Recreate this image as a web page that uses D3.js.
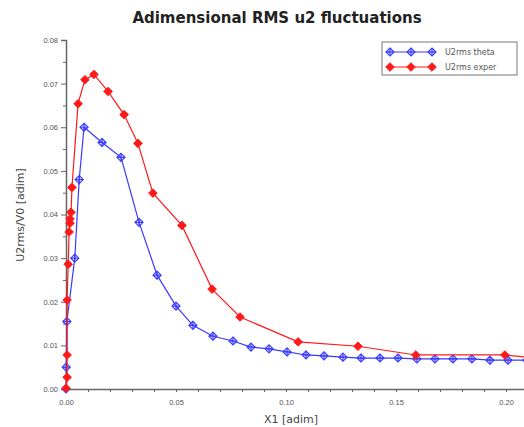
<!DOCTYPE html>
<html>
<head>
<meta charset="utf-8">
<script src="https://cdn.jsdelivr.net/npm/d3@7"></script>
<style>
  body { margin: 0; background: #fff; }
  svg { display: block; font-family: "DejaVu Sans", sans-serif; }
</style>
</head>
<body>
<svg id="chart" width="524" height="427"></svg>
<script>
// data
const thetaX = [0, 0.0001, 0.0004, 0.0040, 0.0060, 0.0082, 0.0164, 0.0250, 0.0332, 0.0414,
  0.0500, 0.0577, 0.0668, 0.0759, 0.0841, 0.0923, 0.1005, 0.1091, 0.1173, 0.1259, 0.1341,
  0.1427, 0.1509, 0.1595, 0.1677, 0.1759, 0.1845, 0.1927, 0.2009, 0.2095]
const thetaY = [0, 0.0050, 0.0155, 0.0300, 0.0480, 0.0600, 0.0565, 0.0531, 0.0382, 0.0261,
  0.0190, 0.0146, 0.0121, 0.0110, 0.0096, 0.0092, 0.0085, 0.0078, 0.0076, 0.0073, 0.0071,
  0.0071, 0.0071, 0.0069, 0.0069, 0.0069, 0.0069, 0.0066, 0.0066, 0.0066]

const experX = [0, 0.0005, 0.0005, 0.0005, 0.0010, 0.0014, 0.0018, 0.0018, 0.0023, 0.0027,
  0.0055, 0.0086, 0.0127, 0.0191, 0.0264, 0.0327, 0.0395, 0.0527, 0.0664, 0.0791,
  0.1055, 0.1327, 0.1590, 0.1995, 0.2150]
const experY = [0.0002, 0.0027, 0.0078, 0.0204, 0.0286, 0.0360, 0.0380, 0.0390, 0.0405, 0.0462,
  0.0654, 0.0709, 0.0721, 0.0682, 0.0629, 0.0563, 0.0449, 0.0375, 0.0229, 0.0165,
  0.0108, 0.0098, 0.0078, 0.0078, 0.0070]

const seriesNames = ['U2rms theta', 'U2rms exper']
const xTickLabels = [0, 0.05, 0.10, 0.15, 0.20]
const yTickLabels = [0, 0.01, 0.02, 0.03, 0.04, 0.05, 0.06, 0.07, 0.08]

const blue = '#3a3aff'
const red = '#ff1a1a'

const svg = d3.select('#chart')

const x = d3.scaleLinear().domain([0, 0.21]).range([66, 528])
const y = d3.scaleLinear().domain([0, 0.08]).range([389, 40])

svg.append('defs').append('clipPath').attr('id', 'clip')
  .append('rect').attr('x', 60).attr('y', 30).attr('width', 464).attr('height', 365)

// title
svg.append('text')
  .attr('x', 277).attr('y', 23)
  .attr('text-anchor', 'middle')
  .attr('font-size', 15).attr('font-weight', 'bold')
  .attr('fill', '#222')
  .text('Adimensional RMS u2 fluctuations')

// axes
const xAxis = d3.axisBottom(x).tickValues(d3.range(0, 0.2101, 0.01)).tickSize(3)
  .tickFormat(d => xTickLabels.some(v => Math.abs(v - d) < 1e-6) ? d3.format('.2f')(d) : '')
const gx = svg.append('g').attr('transform', 'translate(0,389)').call(xAxis)

const yAxis = d3.axisLeft(y).tickValues(d3.range(0, 0.0801, 0.005)).tickSize(5)
  .tickFormat(d => yTickLabels.some(v => Math.abs(v - d) < 1e-6) ? d3.format('.2f')(d) : '')
const gy = svg.append('g').attr('transform', 'translate(66,0)').call(yAxis)

for (const g of [gx, gy]) {
  g.select('.domain').attr('stroke', '#666').attr('stroke-width', 1.5)
  g.selectAll('.tick line').attr('stroke', '#666')
  g.selectAll('.tick text').attr('font-size', 7.5).attr('fill', '#555')
}
gy.selectAll('.tick').filter(d => !yTickLabels.some(v => Math.abs(v - d) < 1e-6))
  .select('line').attr('x2', -3)
gx.selectAll('.tick text').attr('dy', '1.3em')

svg.append('text')
  .attr('x', 291).attr('y', 423)
  .attr('text-anchor', 'middle').attr('font-size', 11).attr('fill', '#444')
  .text('X1 [adim]')

svg.append('text')
  .attr('transform', 'translate(24,215) rotate(-90)')
  .attr('text-anchor', 'middle').attr('font-size', 11).attr('fill', '#444')
  .text('U2rms/V0 [adim]')

// series
const theta = thetaX.map((v, i) => [v, thetaY[i]])
const exper = experX.map((v, i) => [v, experY[i]])
const line = d3.line().x(d => x(d[0])).y(d => y(d[1]))

const plot = svg.append('g').attr('clip-path', 'url(#clip)')

function diamond(r) {
  return `M0,${-r}L${r},0L0,${r}L${-r},0Z`
}

function drawTheta(g, pts) {
  const m = g.selectAll('g.tm').data(pts).join('g').attr('class', 'tm')
    .attr('transform', d => `translate(${x(d[0])},${y(d[1])})`)
  m.append('path').attr('d', diamond(4)).attr('fill', 'none').attr('stroke', blue).attr('stroke-width', 1.2)
  m.append('path').attr('d', 'M-4,0H4M0,-4V4').attr('stroke', blue).attr('stroke-width', 1.2)
}

function drawExper(g, pts) {
  g.selectAll('path.em').data(pts).join('path').attr('class', 'em')
    .attr('transform', d => `translate(${x(d[0])},${y(d[1])})`)
    .attr('d', diamond(4.3)).attr('fill', red).attr('stroke', red).attr('stroke-width', 1)
}

plot.append('path').datum(theta).attr('d', line)
  .attr('fill', 'none').attr('stroke', blue).attr('stroke-width', 1.2)
drawTheta(plot.append('g'), theta)

plot.append('path').datum(exper).attr('d', line)
  .attr('fill', 'none').attr('stroke', red).attr('stroke-width', 1.2)
drawExper(plot.append('g'), exper)

// legend
const lg = svg.append('g')
lg.append('rect').attr('x', 382).attr('y', 42).attr('width', 135).attr('height', 33)
  .attr('fill', '#fff').attr('stroke', '#777').attr('stroke-width', 1)

const legendRows = [52, 67]
seriesNames.forEach((name, i) => {
  const ly = legendRows[i]
  const col = i === 0 ? blue : red
  lg.append('line').attr('x1', 387).attr('x2', 436).attr('y1', ly).attr('y2', ly)
    .attr('stroke', col).attr('stroke-width', 1.2)
  const pts = [390, 411, 432].map(px => [x.invert(px), y.invert(ly)])
  if (i === 0) drawTheta(lg.append('g'), pts)
  else drawExper(lg.append('g'), pts)
  lg.append('text').attr('x', 445).attr('y', ly + 3)
    .attr('font-size', 8).attr('fill', '#555')
    .text(name)
})
</script>
</body>
</html>
